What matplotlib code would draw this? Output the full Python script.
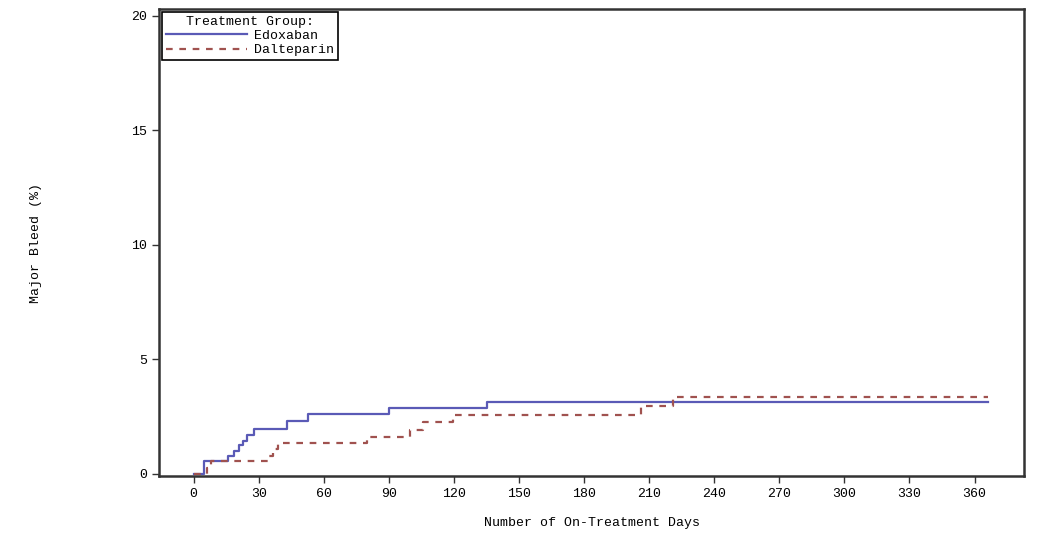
import matplotlib.pyplot as plt

# Cumulative incidence of major bleeding (%) by on-treatment day
edox_days = [0, 4.6, 16, 18.5, 20.8, 22.6, 24.6, 27.7, 42.8, 52.8, 90, 135, 366]
edox_pct = [0, 0.58, 0.80, 1.02, 1.24, 1.45, 1.70, 1.97, 2.30, 2.62, 2.88, 3.13, 3.13]

dalt_days = [0, 6, 8, 34.6, 36.5, 38.8, 80, 99.5, 105.5, 119.5, 206, 221, 366]
dalt_pct = [0, 0.27, 0.54, 0.80, 1.09, 1.35, 1.63, 1.92, 2.25, 2.55, 2.98, 3.35, 3.35]

x_ticks = list(range(0, 361, 30))
y_ticks = [0, 5, 10, 15, 20]

plt.rcParams['font.family'] = ['Liberation Mono', 'DejaVu Sans Mono']

fig = plt.figure(figsize=(10.39, 5.35), dpi=100)
ax = fig.add_axes([0.153, 0.110, 0.833, 0.873])

ax.step(edox_days, edox_pct, where='post', color='#5a5ab6', lw=1.6, label='Edoxaban')
ax.step(dalt_days, dalt_pct, where='post', color='#a0524f', lw=1.6,
        linestyle=(0, (3, 3)), label='Dalteparin')

ax.set_xlim(-16, 383)
ax.set_ylim(-0.1, 20.3)
ax.set_xticks(x_ticks)
ax.set_yticks(y_ticks)
ax.tick_params(labelsize=9.5, length=5, width=1, color='#333333')

for s in ax.spines.values():
    s.set_linewidth(1.8)
    s.set_color('#333333')

ax.set_xlabel('Number of On-Treatment Days', fontsize=9.5, labelpad=12)
ax.set_ylabel('Major Bleed (%)', fontsize=9.5, labelpad=64)

leg = ax.legend(title='Treatment Group:', loc='upper left', fontsize=9.5,
                title_fontsize=9.5, fancybox=False, edgecolor='black',
                framealpha=1, borderaxespad=0.2, handlelength=6.2,
                handletextpad=0.5, borderpad=0.3, labelspacing=0.15)
leg.get_frame().set_linewidth(1.2)
leg._legend_box.align = 'center'

fig.savefig('out.png', dpi=100)
